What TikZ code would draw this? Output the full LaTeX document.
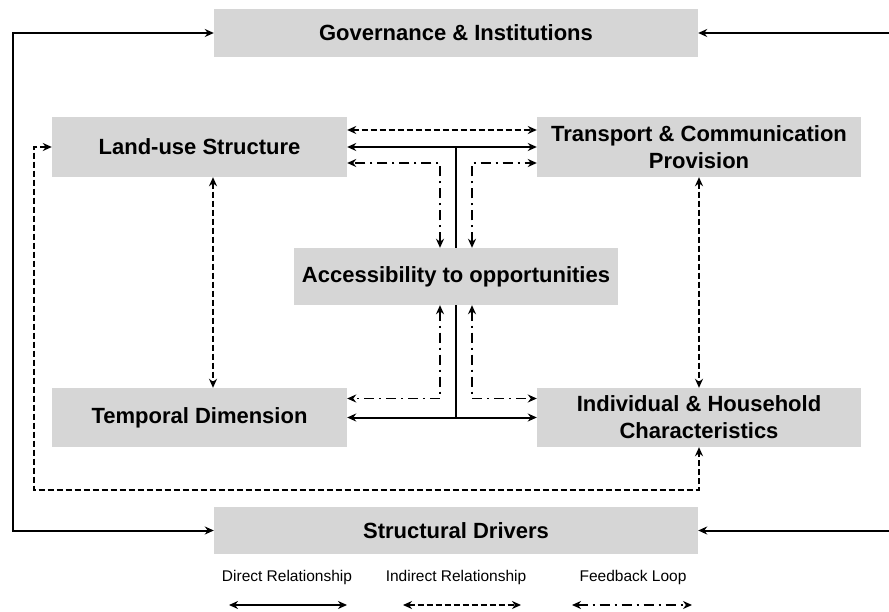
\documentclass[tikz,border=0pt]{standalone}
\usepackage{fontspec}
\setmainfont{Liberation Sans}
\usetikzlibrary{arrows.meta}

\definecolor{boxfill}{RGB}{214,214,214}

\begin{document}
\begin{tikzpicture}[x=1pt,y=-1pt,
	>={Stealth[length=9pt,width=8pt]},
	box/.style={fill=boxfill, inner sep=0pt, align=center,
		font=\bfseries\fontsize{22}{27}\selectfont},
	direct/.style={line width=2pt},
	indirect/.style={line width=1.9pt, dash pattern=on 6pt off 3pt},
	feedback/.style={line width=1.8pt, dash pattern=on 10pt off 5pt on 2pt off 5pt},
	legend/.style={font=\fontsize{15.5}{18}\selectfont}]
	\useasboundingbox (0,0) rectangle (889,612);

	% boxes
	\node[box, minimum width=484pt, minimum height=48pt] (gov) at (456,33) {Governance \& Institutions};
	\node[box, minimum width=295pt, minimum height=60pt] (land) at (199.5,147) {Land-use Structure};
	\node[box, minimum width=324pt, minimum height=60pt] (trans) at (699,147) {Transport \& Communication\\Provision};
	\node[box, minimum width=324pt, minimum height=57pt] (access) at (456,276.5) {Accessibility to opportunities};
	\node[box, minimum width=295pt, minimum height=59pt] (temp) at (199.5,417.5) {Temporal Dimension};
	\node[box, minimum width=324pt, minimum height=59pt] (indiv) at (699,417.5) {Individual \& Household\\Characteristics};
	\node[box, minimum width=484pt, minimum height=47pt] (struct) at (456,530.5) {Structural Drivers};

	\coordinate (leftrail) at (13,280);
	\coordinate (rightedge) at (889,280);

	% top row
	\draw[indirect,<->] ([yshift=17pt]land.east) -- ([yshift=17pt]trans.west);
	\draw[direct,<->] (land.east) -- (trans.west);
	\draw[direct] (access.north) -- (access.north |- land.east);
	\draw[feedback,<->] ([xshift=-16pt]access.north) |- ([yshift=-16pt]land.east);
	\draw[feedback,<->] ([xshift=16pt]access.north) |- ([yshift=-16pt]trans.west);

	% bottom row
	\draw[direct,<->] (temp.east) -- (indiv.west);
	\draw[direct] (access.south) -- (access.south |- temp.east);
	\draw[feedback,<->] ([xshift=-16pt]access.south) |- ([yshift=19pt]temp.east);
	\draw[feedback,<->] ([xshift=16pt]access.south) |- ([yshift=19pt]indiv.west);

	% columns
	\draw[indirect,<->] ([xshift=13.5pt]land.south) -- ([xshift=13.5pt]temp.north);
	\draw[indirect,<->] (trans.south) -- (indiv.north);
	\draw[indirect,<->] (land.west) -- ++(-18,0) |- ([yshift=-42.5pt]indiv.south) -- (indiv.south);

	% outer drivers
	\draw[direct,<->] (gov.west) -| (leftrail) |- (struct.west);
	\draw[direct,->] (gov.east -| rightedge) -- (gov.east);
	\draw[direct,->] (struct.east -| rightedge) -- (struct.east);

	% legend
	\node[legend] (ldirect) at (287,577) {Direct Relationship};
	\node[legend] (lindirect) at (456,577) {Indirect Relationship};
	\node[legend] (lfeedback) at (633,577) {Feedback Loop};
	\draw[direct,<->] ([xshift=-58pt,yshift=-28pt]ldirect.center) -- ++(118,0);
	\draw[indirect,<->] ([xshift=-53pt,yshift=-28pt]lindirect.center) -- ++(118,0);
	\draw[feedback,<->] ([xshift=-61pt,yshift=-28pt]lfeedback.center) -- ++(120,0);
\end{tikzpicture}
\end{document}
